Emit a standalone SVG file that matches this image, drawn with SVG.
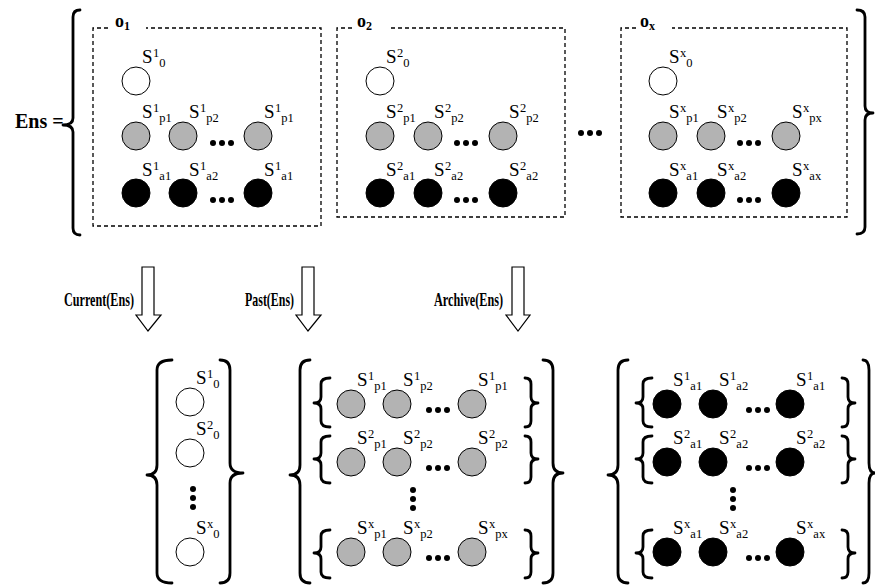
<svg xmlns="http://www.w3.org/2000/svg" width="875" height="587" viewBox="0 0 875 587">
<style>
.bg{fill:#fff}
.box{fill:none;stroke:#000;stroke-width:1.3;stroke-dasharray:4 3}
.br{fill:none;stroke:#000;stroke-width:2.8;stroke-linecap:round;stroke-linejoin:round}
.w{fill:#fff;stroke:#000;stroke-width:1}
.g{fill:#b3b3b3;stroke:#000;stroke-width:1}
.k{fill:#000;stroke:#000;stroke-width:1}
.d{fill:#000}
.s{font-family:"Liberation Serif","Times New Roman",serif;font-size:19px;fill:#000}
.sp{font-size:12.5px}
.o{font-family:"Liberation Serif","Times New Roman",serif;font-size:18px;font-weight:bold;fill:#000}
.os{font-size:12px}
.lbl{font-family:"Liberation Serif","Times New Roman",serif;font-size:19px;font-weight:bold;fill:#000}
.arr{fill:#fff;stroke:#000;stroke-width:1.2;stroke-linejoin:miter}
</style>
<rect class="bg" x="0" y="0" width="875" height="587"/>

<g id="ens">
<text class="o" x="15" y="128" style="font-size:20px">Ens =</text>
<path class="br" d="M80,10 Q73,10 73,17 L73,118 Q73,125 63,125 Q73,125 73,132 L73,228 Q73,235 80,235"/>
<path class="br" d="M857,10 Q865,10 865,17 L865,106 Q865,113 873,113 Q865,113 865,120 L865,227 Q865,234 857,234"/>
<circle class="d" cx="581" cy="133" r="3"/><circle class="d" cx="590" cy="133" r="3"/><circle class="d" cx="599" cy="133" r="3"/>
</g>

<g id="o1">
<path class="box" d="M108,28 H93 V226 H321 V28 H146"/>
<text class="o" x="115" y="27">o<tspan class="os" dy="3">1</tspan></text>
<circle class="w" cx="136" cy="81" r="14"/>
<text class="s" x="142" y="63">S<tspan class="sp" dx="0.5" dy="-6">1</tspan><tspan class="sp" dy="10">0</tspan></text>
<circle class="g" cx="136" cy="136" r="14"/><circle class="g" cx="183" cy="136" r="14"/><circle class="g" cx="258" cy="136" r="14"/>
<text class="s" x="142" y="118">S<tspan class="sp" dx="0.5" dy="-6">1</tspan><tspan class="sp" dy="10">p1</tspan></text>
<text class="s" x="189" y="118">S<tspan class="sp" dx="0.5" dy="-6">1</tspan><tspan class="sp" dy="10">p2</tspan></text>
<text class="s" x="264" y="118">S<tspan class="sp" dx="0.5" dy="-6">1</tspan><tspan class="sp" dy="10">p1</tspan></text>
<circle class="d" cx="213" cy="143" r="3"/><circle class="d" cx="222" cy="143" r="3"/><circle class="d" cx="231" cy="143" r="3"/>
<circle class="k" cx="136" cy="193" r="14"/><circle class="k" cx="183" cy="193" r="14"/><circle class="k" cx="258" cy="193" r="14"/>
<text class="s" x="142" y="176">S<tspan class="sp" dx="0.5" dy="-6">1</tspan><tspan class="sp" dy="10">a1</tspan></text>
<text class="s" x="189" y="176">S<tspan class="sp" dx="0.5" dy="-6">1</tspan><tspan class="sp" dy="10">a2</tspan></text>
<text class="s" x="264" y="176">S<tspan class="sp" dx="0.5" dy="-6">1</tspan><tspan class="sp" dy="10">a1</tspan></text>
<circle class="d" cx="213" cy="200" r="3"/><circle class="d" cx="222" cy="200" r="3"/><circle class="d" cx="231" cy="200" r="3"/>
</g>

<g id="o2">
<path class="box" d="M352,28 H337 V217 H565 V28 H390"/>
<text class="o" x="357" y="27">o<tspan class="os" dy="3">2</tspan></text>
<circle class="w" cx="380" cy="81" r="14"/>
<text class="s" x="386" y="63">S<tspan class="sp" dx="0.5" dy="-6">2</tspan><tspan class="sp" dy="10">0</tspan></text>
<circle class="g" cx="380" cy="136" r="14"/><circle class="g" cx="428" cy="136" r="14"/><circle class="g" cx="503" cy="136" r="14"/>
<text class="s" x="386" y="118">S<tspan class="sp" dx="0.5" dy="-6">2</tspan><tspan class="sp" dy="10">p1</tspan></text>
<text class="s" x="434" y="118">S<tspan class="sp" dx="0.5" dy="-6">2</tspan><tspan class="sp" dy="10">p2</tspan></text>
<text class="s" x="509" y="118">S<tspan class="sp" dx="0.5" dy="-6">2</tspan><tspan class="sp" dy="10">p2</tspan></text>
<circle class="d" cx="457" cy="143" r="3"/><circle class="d" cx="466" cy="143" r="3"/><circle class="d" cx="475" cy="143" r="3"/>
<circle class="k" cx="380" cy="193" r="14"/><circle class="k" cx="428" cy="193" r="14"/><circle class="k" cx="503" cy="193" r="14"/>
<text class="s" x="386" y="176">S<tspan class="sp" dx="0.5" dy="-6">2</tspan><tspan class="sp" dy="10">a1</tspan></text>
<text class="s" x="434" y="176">S<tspan class="sp" dx="0.5" dy="-6">2</tspan><tspan class="sp" dy="10">a2</tspan></text>
<text class="s" x="509" y="176">S<tspan class="sp" dx="0.5" dy="-6">2</tspan><tspan class="sp" dy="10">a2</tspan></text>
<circle class="d" cx="457" cy="200" r="3"/><circle class="d" cx="466" cy="200" r="3"/><circle class="d" cx="475" cy="200" r="3"/>
</g>

<g id="ox">
<path class="box" d="M636,28 H621 V217 H847 V28 H672"/>
<text class="o" x="640" y="27">o<tspan class="os" dy="3">x</tspan></text>
<circle class="w" cx="663" cy="81" r="14"/>
<text class="s" x="669" y="63">S<tspan class="sp" dx="0.5" dy="-6">x</tspan><tspan class="sp" dy="10">0</tspan></text>
<circle class="g" cx="663" cy="136" r="14"/><circle class="g" cx="711" cy="136" r="14"/><circle class="g" cx="786" cy="136" r="14"/>
<text class="s" x="669" y="118">S<tspan class="sp" dx="0.5" dy="-6">x</tspan><tspan class="sp" dy="10">p1</tspan></text>
<text class="s" x="717" y="118">S<tspan class="sp" dx="0.5" dy="-6">x</tspan><tspan class="sp" dy="10">p2</tspan></text>
<text class="s" x="792" y="118">S<tspan class="sp" dx="0.5" dy="-6">x</tspan><tspan class="sp" dy="10">px</tspan></text>
<circle class="d" cx="740" cy="143" r="3"/><circle class="d" cx="749" cy="143" r="3"/><circle class="d" cx="758" cy="143" r="3"/>
<circle class="k" cx="663" cy="193" r="14"/><circle class="k" cx="711" cy="193" r="14"/><circle class="k" cx="786" cy="193" r="14"/>
<text class="s" x="669" y="176">S<tspan class="sp" dx="0.5" dy="-6">x</tspan><tspan class="sp" dy="10">a1</tspan></text>
<text class="s" x="717" y="176">S<tspan class="sp" dx="0.5" dy="-6">x</tspan><tspan class="sp" dy="10">a2</tspan></text>
<text class="s" x="792" y="176">S<tspan class="sp" dx="0.5" dy="-6">x</tspan><tspan class="sp" dy="10">ax</tspan></text>
<circle class="d" cx="740" cy="200" r="3"/><circle class="d" cx="749" cy="200" r="3"/><circle class="d" cx="758" cy="200" r="3"/>
</g>

<g id="connectors">
<path class="arr" d="M142,267 H154 V315 H161 L148,331 L136,315 H142 Z"/>
<path class="arr" d="M302,267 H314 V315 H321 L308,331 L296,315 H302 Z"/>
<path class="arr" d="M512,267 H524 V315 H530 L518,331 L506,315 H512 Z"/>
<text class="lbl" x="64" y="306" textLength="70" lengthAdjust="spacingAndGlyphs">Current(Ens)</text>
<text class="lbl" x="245" y="306" textLength="49" lengthAdjust="spacingAndGlyphs">Past(Ens)</text>
<text class="lbl" x="434" y="306" textLength="69" lengthAdjust="spacingAndGlyphs">Archive(Ens)</text>
</g>

<g id="current">
<path class="br" d="M172,360 Q157,360 157,370 L157,465 Q157,475 147,475 Q157,475 157,485 L157,573 Q157,583 172,583"/>
<path class="br" d="M220,360 Q230,360 230,370 L230,463 Q230,473 243,473 Q230,473 230,483 L230,573 Q230,583 220,583"/>
<circle class="w" cx="190" cy="402" r="14"/>
<text class="s" x="196" y="384">S<tspan class="sp" dx="0.5" dy="-6">1</tspan><tspan class="sp" dy="10">0</tspan></text>
<circle class="w" cx="190" cy="453" r="14"/>
<text class="s" x="196" y="435">S<tspan class="sp" dx="0.5" dy="-6">2</tspan><tspan class="sp" dy="10">0</tspan></text>
<circle class="d" cx="193" cy="489" r="3"/><circle class="d" cx="193" cy="498" r="3"/><circle class="d" cx="193" cy="507" r="3"/>
<circle class="w" cx="190" cy="552" r="14"/>
<text class="s" x="196" y="534">S<tspan class="sp" dx="0.5" dy="-6">x</tspan><tspan class="sp" dy="10">0</tspan></text>
</g>

<g id="past">
<path class="br" d="M310,360 Q300,360 300,370 L300,465 Q300,475 290,475 Q300,475 300,485 L300,573 Q300,583 310,583"/>
<path class="br" d="M543,360 Q553,360 553,370 L553,463 Q553,473 563,473 Q553,473 553,483 L553,573 Q553,583 543,583"/>
<path class="br" d="M330,378 Q321,378 321,384 L321,397 Q321,403 314,403 Q321,403 321,409 L321,421 Q321,427 330,427"/>
<path class="br" d="M525,378 Q531,378 531,384 L531,397 Q531,403 538,403 Q531,403 531,409 L531,421 Q531,427 525,427"/>
<path class="br" d="M330,436 Q321,436 321,442 L321,453 Q321,459 314,459 Q321,459 321,465 L321,477 Q321,483 330,483"/>
<path class="br" d="M525,436 Q531,436 531,442 L531,453 Q531,459 538,459 Q531,459 531,465 L531,477 Q531,483 525,483"/>
<path class="br" d="M330,530 Q321,530 321,536 L321,547 Q321,553 314,553 Q321,553 321,559 L321,572 Q321,578 330,578"/>
<path class="br" d="M525,530 Q531,530 531,536 L531,547 Q531,553 538,553 Q531,553 531,559 L531,572 Q531,578 525,578"/>
<circle class="g" cx="351" cy="404" r="14"/><circle class="g" cx="397" cy="404" r="14"/><circle class="g" cx="472" cy="404" r="14"/>
<text class="s" x="357" y="386">S<tspan class="sp" dx="0.5" dy="-6">1</tspan><tspan class="sp" dy="10">p1</tspan></text>
<text class="s" x="403" y="386">S<tspan class="sp" dx="0.5" dy="-6">1</tspan><tspan class="sp" dy="10">p2</tspan></text>
<text class="s" x="478" y="386">S<tspan class="sp" dx="0.5" dy="-6">1</tspan><tspan class="sp" dy="10">p1</tspan></text>
<circle class="d" cx="429" cy="410" r="3"/><circle class="d" cx="438" cy="410" r="3"/><circle class="d" cx="447" cy="410" r="3"/>
<circle class="g" cx="351" cy="462" r="14"/><circle class="g" cx="397" cy="462" r="14"/><circle class="g" cx="472" cy="462" r="14"/>
<text class="s" x="357" y="444">S<tspan class="sp" dx="0.5" dy="-6">2</tspan><tspan class="sp" dy="10">p1</tspan></text>
<text class="s" x="403" y="444">S<tspan class="sp" dx="0.5" dy="-6">2</tspan><tspan class="sp" dy="10">p2</tspan></text>
<text class="s" x="478" y="444">S<tspan class="sp" dx="0.5" dy="-6">2</tspan><tspan class="sp" dy="10">p2</tspan></text>
<circle class="d" cx="429" cy="468" r="3"/><circle class="d" cx="438" cy="468" r="3"/><circle class="d" cx="447" cy="468" r="3"/>
<circle class="d" cx="413" cy="490" r="3"/><circle class="d" cx="413" cy="499" r="3"/><circle class="d" cx="413" cy="508" r="3"/>
<circle class="g" cx="351" cy="552" r="14"/><circle class="g" cx="397" cy="552" r="14"/><circle class="g" cx="472" cy="552" r="14"/>
<text class="s" x="357" y="534">S<tspan class="sp" dx="0.5" dy="-6">x</tspan><tspan class="sp" dy="10">p1</tspan></text>
<text class="s" x="403" y="534">S<tspan class="sp" dx="0.5" dy="-6">x</tspan><tspan class="sp" dy="10">p2</tspan></text>
<text class="s" x="478" y="534">S<tspan class="sp" dx="0.5" dy="-6">x</tspan><tspan class="sp" dy="10">px</tspan></text>
<circle class="d" cx="429" cy="558" r="3"/><circle class="d" cx="438" cy="558" r="3"/><circle class="d" cx="447" cy="558" r="3"/>
</g>

<g id="archive">
<path class="br" d="M628,360 Q618,360 618,370 L618,465 Q618,475 608,475 Q618,475 618,485 L618,573 Q618,583 628,583"/>
<path class="br" d="M863,360 Q869,360 869,370 L869,463 Q869,473 875,473 Q869,473 869,483 L869,573 Q869,583 863,583"/>
<path class="br" d="M652,378 Q643,378 643,384 L643,397 Q643,403 636,403 Q643,403 643,409 L643,421 Q643,427 652,427"/>
<path class="br" d="M842,378 Q848,378 848,384 L848,397 Q848,403 855,403 Q848,403 848,409 L848,421 Q848,427 842,427"/>
<path class="br" d="M652,436 Q643,436 643,442 L643,453 Q643,459 636,459 Q643,459 643,465 L643,477 Q643,483 652,483"/>
<path class="br" d="M842,436 Q848,436 848,442 L848,453 Q848,459 855,459 Q848,459 848,465 L848,477 Q848,483 842,483"/>
<path class="br" d="M652,530 Q643,530 643,536 L643,547 Q643,553 636,553 Q643,553 643,559 L643,572 Q643,578 652,578"/>
<path class="br" d="M842,530 Q848,530 848,536 L848,547 Q848,553 855,553 Q848,553 848,559 L848,572 Q848,578 842,578"/>
<circle class="k" cx="667" cy="404" r="14"/><circle class="k" cx="713" cy="404" r="14"/><circle class="k" cx="790" cy="404" r="14"/>
<text class="s" x="673" y="386">S<tspan class="sp" dx="0.5" dy="-6">1</tspan><tspan class="sp" dy="10">a1</tspan></text>
<text class="s" x="719" y="386">S<tspan class="sp" dx="0.5" dy="-6">1</tspan><tspan class="sp" dy="10">a2</tspan></text>
<text class="s" x="796" y="386">S<tspan class="sp" dx="0.5" dy="-6">1</tspan><tspan class="sp" dy="10">a1</tspan></text>
<circle class="d" cx="749" cy="410" r="3"/><circle class="d" cx="758" cy="410" r="3"/><circle class="d" cx="767" cy="410" r="3"/>
<circle class="k" cx="667" cy="462" r="14"/><circle class="k" cx="713" cy="462" r="14"/><circle class="k" cx="790" cy="462" r="14"/>
<text class="s" x="673" y="444">S<tspan class="sp" dx="0.5" dy="-6">2</tspan><tspan class="sp" dy="10">a1</tspan></text>
<text class="s" x="719" y="444">S<tspan class="sp" dx="0.5" dy="-6">2</tspan><tspan class="sp" dy="10">a2</tspan></text>
<text class="s" x="796" y="444">S<tspan class="sp" dx="0.5" dy="-6">2</tspan><tspan class="sp" dy="10">a2</tspan></text>
<circle class="d" cx="749" cy="468" r="3"/><circle class="d" cx="758" cy="468" r="3"/><circle class="d" cx="767" cy="468" r="3"/>
<circle class="d" cx="733" cy="490" r="3"/><circle class="d" cx="733" cy="499" r="3"/><circle class="d" cx="733" cy="508" r="3"/>
<circle class="k" cx="667" cy="552" r="14"/><circle class="k" cx="713" cy="552" r="14"/><circle class="k" cx="790" cy="552" r="14"/>
<text class="s" x="673" y="534">S<tspan class="sp" dx="0.5" dy="-6">x</tspan><tspan class="sp" dy="10">a1</tspan></text>
<text class="s" x="719" y="534">S<tspan class="sp" dx="0.5" dy="-6">x</tspan><tspan class="sp" dy="10">a2</tspan></text>
<text class="s" x="796" y="534">S<tspan class="sp" dx="0.5" dy="-6">x</tspan><tspan class="sp" dy="10">ax</tspan></text>
<circle class="d" cx="749" cy="558" r="3"/><circle class="d" cx="758" cy="558" r="3"/><circle class="d" cx="767" cy="558" r="3"/>
</g>
</svg>
